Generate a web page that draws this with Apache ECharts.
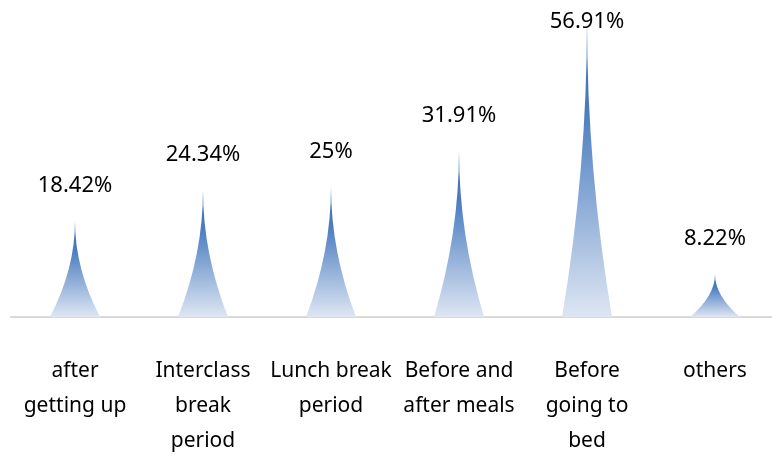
<!DOCTYPE html>
<html>
<head>
<meta charset="utf-8">
<script src="https://cdn.jsdelivr.net/npm/echarts@6/dist/echarts.min.js"></script>
<style>
  html, body { margin: 0; padding: 0; background: #ffffff; }
  #chart { width: 772px; height: 456px; }
</style>
</head>
<body>
<div id="chart"></div>
<script>
// Time periods (tick labels, pre-wrapped)
const categories = [
  'after\ngetting up',
  'Interclass\nbreak\nperiod',
  'Lunch break\nperiod',
  'Before and\nafter meals',
  'Before\ngoing to\nbed',
  'others'
];
// Share of respondents per period (%)
const shares = [18.42, 24.34, 25, 31.91, 56.91, 8.22];

const FONT = '"Noto Sans", "DejaVu Sans", sans-serif';

// Spike with concave (parabolic) sides
const spikePath = 'path://M5,0 Q5,5 10,10 L0,10 Q5,5 5,0 Z';

const chart = echarts.init(document.getElementById('chart'), null, { renderer: 'canvas' });

chart.setOption({
  animation: false,
  backgroundColor: '#ffffff',
  grid: { left: 11, width: 768, top: 4.4, bottom: 139, outerBoundsMode: 'none', containLabel: false },
  xAxis: {
    type: 'category',
    data: categories,
    axisTick: { show: false },
    axisLine: { lineStyle: { color: '#d9d9d9', width: 2 } },
    axisLabel: {
      color: '#000000',
      fontFamily: FONT,
      fontSize: 21,
      lineHeight: 35,
      margin: 37,
      interval: 0
    }
  },
  yAxis: {
    type: 'value',
    min: 0,
    max: 60,
    show: false,
    splitLine: { show: false }
  },
  series: [{
    type: 'pictorialBar',
    symbol: spikePath,
    symbolSize: [50, '100%'],
    barCategoryGap: '0%',
    data: shares,
    itemStyle: {
      color: new echarts.graphic.LinearGradient(0, 0, 0, 1, [
        { offset: 0, color: '#3a6cb2' },
        { offset: 0.3, color: '#4a7cc0' },
        { offset: 1, color: '#dee6f3' }
      ])
    },
    label: {
      show: true,
      position: 'top',
      distance: 24,
      color: '#000000',
      fontFamily: FONT,
      fontSize: 22,
      formatter: p => p.value + '%'
    },
    z: 2
  }],
  // keep value labels inside the canvas
  labelLayout: function (p) {
    const r = p.labelRect;
    const minTop = 11;
    return {
      x: r.x + r.width / 2,
      y: Math.max(r.y, minTop),
      align: 'center',
      verticalAlign: 'top'
    };
  }
});
</script>
</body>
</html>
